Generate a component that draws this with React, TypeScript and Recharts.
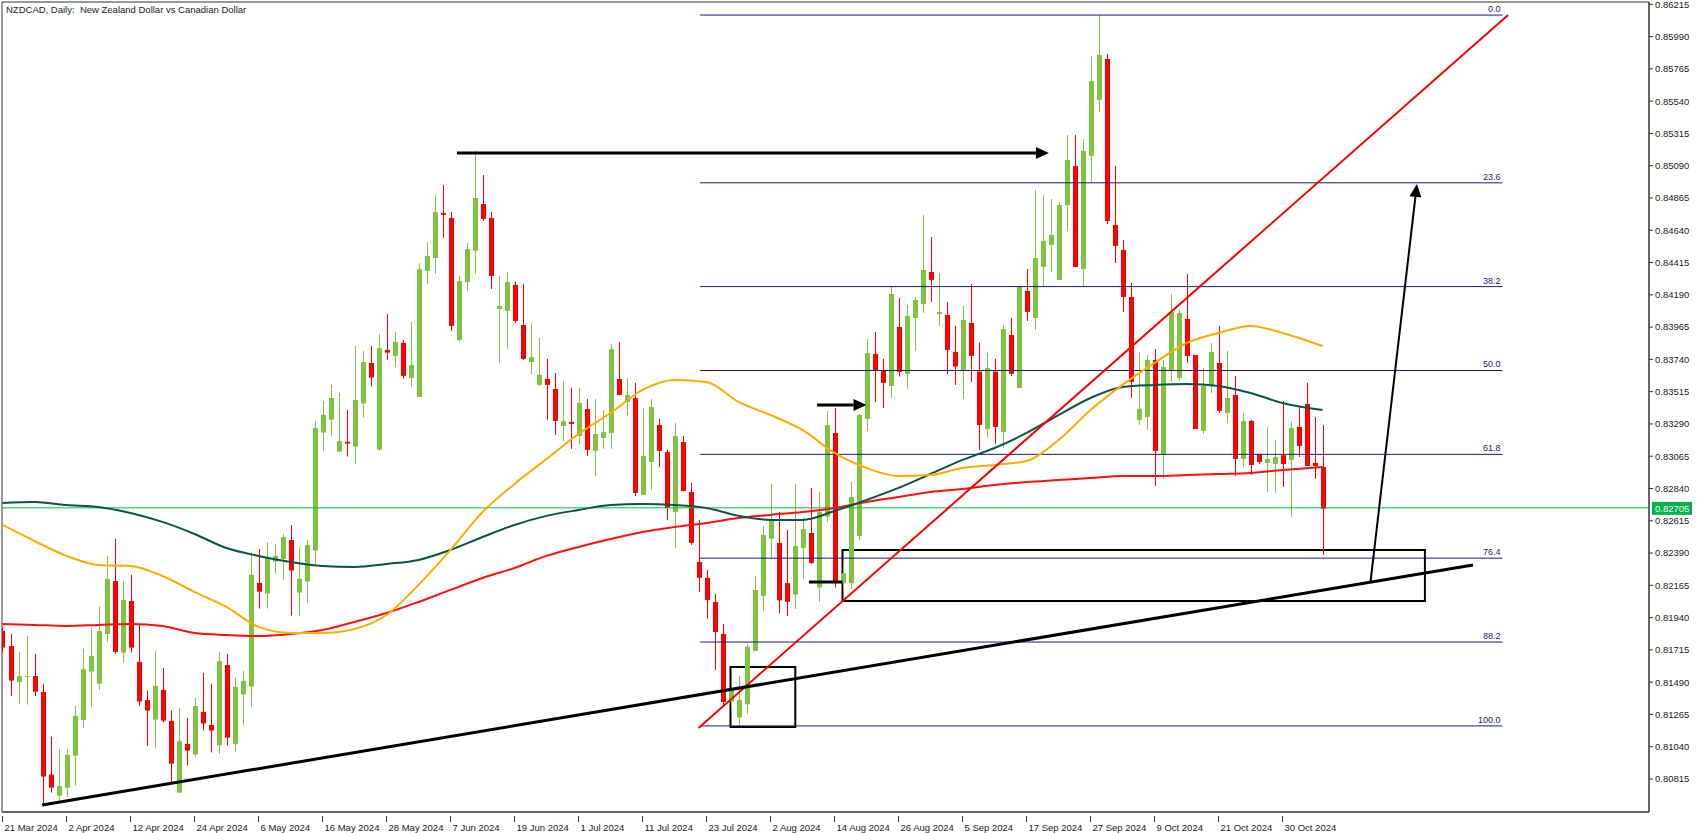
import {
  Bar,
  ComposedChart,
  Line,
  ReferenceArea,
  ReferenceLine,
  XAxis,
  YAxis,
} from "recharts";

// daily candles, index 0 = 21 Mar 2024
const opens = [
  0.81847, 0.81742, 0.81492, 0.81526, 0.81533, 0.81422, 0.80846, 0.80699, 0.80755, 0.80978,
  0.81227, 0.81564, 0.8148, 0.81826, 0.82195, 0.81696, 0.82056, 0.81631, 0.81366, 0.81229,
  0.81436, 0.8122, 0.8072, 0.8106, 0.80985, 0.81283, 0.81192, 0.8105, 0.8161, 0.8106,
  0.81404, 0.81459, 0.82182, 0.82108, 0.82331, 0.82349, 0.82481, 0.82115, 0.82191, 0.82407,
  0.8323, 0.8332, 0.83097, 0.83165, 0.83132, 0.83432, 0.83715, 0.83111, 0.83806, 0.83764,
  0.83855, 0.83611, 0.83478, 0.84356, 0.84447, 0.8476, 0.84726, 0.83875, 0.8428, 0.84496,
  0.84823, 0.84726, 0.84091, 0.84077, 0.84259, 0.8398, 0.83722, 0.83562, 0.83604, 0.83534,
  0.83276, 0.83304, 0.83206, 0.83394, 0.83102, 0.83192, 0.83227, 0.83603, 0.83443, 0.83471,
  0.82795, 0.83025, 0.83283, 0.83095, 0.82677, 0.83164, 0.82816, 0.82328, 0.82217, 0.82049,
  0.81826, 0.81355, 0.81243, 0.81336, 0.81708, 0.82091, 0.82489, 0.82461, 0.8218, 0.821,
  0.82426, 0.8253, 0.8215, 0.82644, 0.83227, 0.8218, 0.8218, 0.82509, 0.83325, 0.83778,
  0.83659, 0.83555, 0.83966, 0.83638, 0.84029, 0.84126, 0.84349, 0.84057, 0.8405, 0.83792,
  0.83667, 0.83994, 0.83655, 0.83255, 0.83655, 0.83234, 0.8391, 0.83541, 0.84217, 0.84029,
  0.84384, 0.84538, 0.84294, 0.84816, 0.85088, 0.8437, 0.85158, 0.85548, 0.85834, 0.84677,
  0.84503, 0.84175, 0.83318, 0.83339, 0.83736, 0.83074, 0.83659, 0.83611, 0.84022, 0.83771,
  0.83241, 0.83562, 0.83715, 0.83367, 0.83492, 0.83046, 0.83311, 0.83081, 0.83018, 0.83011,
  0.83072, 0.83039, 0.83269, 0.83429, 0.83018, 0.8299,
];
const highs = [
  0.8187, 0.81826, 0.81701, 0.81812, 0.81687, 0.81478, 0.81111, 0.81025, 0.81025, 0.81324,
  0.81722, 0.81868, 0.82017, 0.8237, 0.82488, 0.82195, 0.82237, 0.81896, 0.81431, 0.81708,
  0.81589, 0.81292, 0.8131, 0.81241, 0.8138, 0.81555, 0.81478, 0.81701, 0.81687, 0.8152,
  0.81569, 0.82396, 0.82419, 0.82465, 0.82454, 0.82523, 0.82586, 0.82433, 0.82481, 0.83311,
  0.8345, 0.83562, 0.83506, 0.83388, 0.83834, 0.83799, 0.83834, 0.83917, 0.84056, 0.83931,
  0.83875, 0.84001, 0.8441, 0.84558, 0.84886, 0.84956, 0.84767, 0.84321, 0.84551, 0.85193,
  0.85025, 0.84767, 0.84321, 0.84349, 0.8428, 0.84266, 0.83994, 0.83889, 0.83743, 0.83645,
  0.8359, 0.83541, 0.83541, 0.83464, 0.83464, 0.83387, 0.83847, 0.83861, 0.8361, 0.83576,
  0.83401, 0.83464, 0.83325, 0.83109, 0.83297, 0.83206, 0.82879, 0.82621, 0.82272, 0.82105,
  0.81896, 0.81448, 0.81534, 0.81757, 0.8223, 0.82579, 0.82872, 0.82677, 0.82551, 0.82872,
  0.82635, 0.82844, 0.82816, 0.8338, 0.83401, 0.8232, 0.82886, 0.8336, 0.83882, 0.83931,
  0.83743, 0.84252, 0.84168, 0.84119, 0.84175, 0.84747, 0.84593, 0.84342, 0.8414, 0.83973,
  0.84113, 0.84266, 0.83857, 0.83785, 0.83743, 0.8398, 0.84029, 0.84252, 0.8437, 0.84921,
  0.84886, 0.84858, 0.84837, 0.85304, 0.85304, 0.85276, 0.85855, 0.8614, 0.85869, 0.85088,
  0.84572, 0.84273, 0.83792, 0.83771, 0.83813, 0.83736, 0.84196, 0.84084, 0.84335, 0.83771,
  0.8368, 0.83854, 0.83973, 0.83799, 0.83624, 0.83367, 0.83318, 0.83081, 0.83269, 0.83178,
  0.8345, 0.83304, 0.83408, 0.83576, 0.83339, 0.83283,
];
const lows = [
  0.817, 0.81394, 0.81341, 0.81334, 0.81394, 0.80623, 0.8072, 0.80662, 0.80692, 0.80769,
  0.81169, 0.81317, 0.81436, 0.8177, 0.81689, 0.81626, 0.81696, 0.81324, 0.81046, 0.81027,
  0.81208, 0.80783, 0.8072, 0.80911, 0.8097, 0.81153, 0.81, 0.8099, 0.8105, 0.8101,
  0.81188, 0.8132, 0.82003, 0.82003, 0.82247, 0.82205, 0.81954, 0.81954, 0.82045, 0.82307,
  0.83104, 0.83202, 0.83095, 0.83062, 0.83013, 0.83334, 0.8355, 0.83104, 0.83738, 0.83687,
  0.83604, 0.83548, 0.83478, 0.84266, 0.84335, 0.84586, 0.83938, 0.83862, 0.84217, 0.84335,
  0.84705, 0.84231, 0.83715, 0.83813, 0.83994, 0.83736, 0.83638, 0.83555, 0.83318, 0.83213,
  0.83171, 0.83116, 0.8315, 0.83067, 0.82927, 0.83116, 0.83116, 0.83492, 0.83352, 0.82788,
  0.82795, 0.8283, 0.8299, 0.82621, 0.82426, 0.82823, 0.82447, 0.82119, 0.81931, 0.81575,
  0.81324, 0.81297, 0.81185, 0.81269, 0.81708, 0.81987, 0.82349, 0.8197, 0.8195, 0.82,
  0.8221, 0.82314, 0.8205, 0.82607, 0.8215, 0.8213, 0.8214, 0.8248, 0.83241, 0.83443,
  0.83401, 0.83471, 0.8362, 0.83534, 0.83799, 0.84064, 0.8414, 0.83973, 0.83638, 0.83562,
  0.83464, 0.83583, 0.83109, 0.83193, 0.83151, 0.83123, 0.83625, 0.83541, 0.84008, 0.83945,
  0.84245, 0.84349, 0.84294, 0.84635, 0.84384, 0.84245, 0.8497, 0.85464, 0.84684, 0.84412,
  0.84071, 0.83471, 0.83283, 0.83248, 0.82858, 0.82907, 0.83583, 0.8359, 0.83715, 0.83255,
  0.8322, 0.83506, 0.83367, 0.83297, 0.82928, 0.8299, 0.82935, 0.83011, 0.82816, 0.82809,
  0.82851, 0.82642, 0.8306, 0.82997, 0.82907, 0.82377,
];
const closes = [
  0.81731, 0.81501, 0.81533, 0.81533, 0.81424, 0.80832, 0.80755, 0.80767, 0.80983, 0.81255,
  0.81582, 0.81673, 0.81847, 0.82209, 0.81701, 0.82063, 0.81731, 0.81355, 0.81292, 0.81464,
  0.81222, 0.80922, 0.8108, 0.81013, 0.81324, 0.81202, 0.81153, 0.81638, 0.81104, 0.81457,
  0.81499, 0.82238, 0.82121, 0.82361, 0.8237, 0.82502, 0.82268, 0.8221, 0.82447, 0.83262,
  0.83353, 0.83471, 0.83171, 0.83153, 0.83457, 0.83722, 0.83613, 0.8382, 0.83787, 0.83862,
  0.83625, 0.83701, 0.8437, 0.84461, 0.84767, 0.84747, 0.83973, 0.84287, 0.8451, 0.84865,
  0.84719, 0.84321, 0.84112, 0.8428, 0.84008, 0.83743, 0.83757, 0.83632, 0.83562, 0.83311,
  0.83311, 0.8329, 0.83436, 0.83109, 0.8322, 0.83234, 0.83812, 0.83492, 0.83492, 0.82809,
  0.83067, 0.83408, 0.83102, 0.82704, 0.83206, 0.82823, 0.82461, 0.82217, 0.82063, 0.8184,
  0.81352, 0.81436, 0.81366, 0.81736, 0.82133, 0.82516, 0.82621, 0.8206, 0.8205, 0.8244,
  0.82558, 0.82321, 0.82677, 0.83283, 0.82182, 0.8225, 0.82781, 0.83353, 0.83785, 0.83666,
  0.83576, 0.84196, 0.83652, 0.84043, 0.84154, 0.84363, 0.84294, 0.84071, 0.83806, 0.8369,
  0.84015, 0.83764, 0.83283, 0.8368, 0.83269, 0.83952, 0.83639, 0.84245, 0.84071, 0.84447,
  0.84566, 0.84607, 0.84816, 0.8513, 0.84384, 0.85193, 0.85681, 0.85862, 0.84705, 0.84531,
  0.84175, 0.83583, 0.83395, 0.83736, 0.83102, 0.83687, 0.8407, 0.84064, 0.83764, 0.83255,
  0.83555, 0.83792, 0.83381, 0.83471, 0.83046, 0.83311, 0.83004, 0.83025, 0.83046, 0.8306,
  0.83011, 0.83262, 0.83137, 0.82997, 0.82997, 0.82698,
];

// moving averages read every 4 bars
const maIndex = [
  0, 4, 8, 12, 16, 20, 24, 28, 32, 36, 40, 44, 48, 52, 56, 60, 64, 68, 72, 76, 80,
  84, 88, 92, 96, 100, 104, 108, 112, 116, 120, 124, 128, 132, 136, 140, 144, 148,
  152, 156, 160, 165,
];
const maFast = [
  0.82586, 0.82474, 0.8237, 0.82307, 0.823, 0.8223, 0.82119, 0.82014, 0.81875, 0.81833,
  0.81833, 0.81861, 0.81958, 0.82168, 0.82412, 0.82676, 0.82872, 0.83046, 0.8322, 0.83366,
  0.83527, 0.83597, 0.83583, 0.83443, 0.83352, 0.83248, 0.83088, 0.82983, 0.82927, 0.82934,
  0.82983, 0.83004, 0.83032, 0.83178, 0.83387, 0.83562, 0.83715, 0.83854, 0.83924, 0.83973,
  0.83924, 0.83833,
];
const maMid = [
  0.82739, 0.82746, 0.82725, 0.82711, 0.82669, 0.82607, 0.82523, 0.82425, 0.8237, 0.82328,
  0.823, 0.82293, 0.82314, 0.82342, 0.82412, 0.82502, 0.82586, 0.82649, 0.8269, 0.82725,
  0.82732, 0.82725, 0.82704, 0.82649, 0.82621, 0.82621, 0.82683, 0.8276, 0.82844, 0.82941,
  0.83039, 0.83122, 0.83227, 0.83352, 0.83471, 0.83548, 0.83562, 0.83569, 0.83555, 0.83506,
  0.83436, 0.83387,
];
const maSlow = [
  0.81896, 0.81889, 0.81882, 0.81889, 0.81896, 0.81882, 0.81833, 0.81819, 0.81812, 0.81826,
  0.81854, 0.8191, 0.81972, 0.82049, 0.82133, 0.82216, 0.82286, 0.8237, 0.82432, 0.82488,
  0.82537, 0.82572, 0.826, 0.82635, 0.82656, 0.82676, 0.82704, 0.82746, 0.82781, 0.82816,
  0.82837, 0.82865, 0.82885, 0.82899, 0.82913, 0.82927, 0.82927, 0.82934, 0.82941, 0.82948,
  0.82969, 0.8299,
];

const tickIdx = [0, 8, 16, 24, 32, 40, 48, 56, 64, 72, 80, 88, 96, 104, 112, 120, 128, 136, 144, 152, 160];
const tickLabels = [
  "21 Mar 2024", "2 Apr 2024", "12 Apr 2024", "24 Apr 2024", "6 May 2024", "16 May 2024",
  "28 May 2024", "7 Jun 2024", "19 Jun 2024", "1 Jul 2024", "11 Jul 2024", "23 Jul 2024",
  "2 Aug 2024", "14 Aug 2024", "26 Aug 2024", "5 Sep 2024", "17 Sep 2024", "27 Sep 2024",
  "9 Oct 2024", "21 Oct 2024", "30 Oct 2024",
];
const priceTicks = [
  0.86215, 0.8599, 0.85765, 0.8554, 0.85315, 0.8509, 0.84865, 0.8464, 0.84415, 0.8419,
  0.83965, 0.8374, 0.83515, 0.8329, 0.83065, 0.8284, 0.82615, 0.8239, 0.82165, 0.8194,
  0.81715, 0.8149, 0.81265, 0.8104, 0.80815,
];

// fibonacci retracement drawn from the 26 Sep high to the 24 Jul low
const fibHigh = 0.8614;
const fibLow = 0.81185;
const fibLevels = [0, 23.6, 38.2, 50, 61.8, 76.4, 88.2, 100];
const fibFrom = 87.2;
const fibTo = 187.5;
const lastPrice = 0.82705;

const GREEN = "#80c342";
const RED = "#ff0000";
const NAVY = "#1b1b78";
const FONT = "Liberation Sans, Arial, sans-serif";

const rows = opens.map((o, i) => {
  const k = maIndex.indexOf(i);
  return {
    i,
    o,
    h: highs[i],
    l: lows[i],
    c: closes[i],
    range: [lows[i], highs[i]],
    fast: k >= 0 ? maFast[k] : null,
    mid: k >= 0 ? maMid[k] : null,
    slow: k >= 0 ? maSlow[k] : null,
  };
});

function Candle(props: any) {
  const { x, y, width, height, payload } = props;
  if (!payload) return null;
  const { o, h, l, c } = payload;
  const top = Math.min(y, y + height);
  const full = Math.abs(height);
  const k = h > l ? full / (h - l) : 0;
  const yo = top + (h - o) * k;
  const yc = top + (h - c) * k;
  const cx = Math.floor(x + width / 2) + 0.5;
  const col = c >= o ? GREEN : RED;
  const bt = Math.min(yo, yc);
  const bh = Math.max(1, Math.abs(yc - yo));
  return (
    <g>
      <line x1={cx} x2={cx} y1={top} y2={top + full} stroke={col} strokeWidth={1} />
      <rect x={cx - 2.5} y={bt} width={5} height={bh} fill={col} />
    </g>
  );
}

function arrowLine(width: number) {
  return (p: any) => {
    const { x1, y1, x2, y2 } = p;
    const a = Math.atan2(y2 - y1, x2 - x1);
    const len = 13;
    const half = 6;
    const bx = x2 - len * Math.cos(a);
    const by = y2 - len * Math.sin(a);
    const px = -Math.sin(a) * half;
    const py = Math.cos(a) * half;
    return (
      <g>
        <line x1={x1} y1={y1} x2={bx} y2={by} stroke="#000" strokeWidth={width} />
        <polygon points={`${x2},${y2} ${bx + px},${by + py} ${bx - px},${by - py}`} fill="#000" />
      </g>
    );
  };
}

const fibLabel = (text: string) => (p: any) => {
  const vb = p.viewBox || {};
  return (
    <text x={vb.x + vb.width - 2} y={vb.y - 3} textAnchor="end" fontSize={9} fontFamily={FONT} fill={NAVY}>
      {text}
    </text>
  );
};

const priceLabel = (p: any) => {
  const vb = p.viewBox || {};
  const x = vb.x + vb.width + 3;
  return (
    <g>
      <rect x={x} y={vb.y - 6} width={40} height={13} fill="#00b44b" />
      <text x={x + 3} y={vb.y + 4} fontSize={9.5} fontFamily={FONT} fill="#fff">
        {lastPrice.toFixed(5)}
      </text>
    </g>
  );
};

const XTick = (p: any) => {
  const { x, y, payload } = p;
  const k = tickIdx.indexOf(payload.value);
  return (
    <g>
      <line x1={x} x2={x} y1={y - 4} y2={y + 2} stroke="#333" />
      <text x={x + 2} y={y + 11} fontSize={9.5} fontFamily={FONT} fill="#222">
        {k >= 0 ? tickLabels[k] : ""}
      </text>
    </g>
  );
};

export default function App() {
  const xMin = -0.0625;
  const xMax = 205.81;
  const yMin = 0.80585;
  const yMax = 0.86231;
  return (
    <div style={{ position: "absolute", left: 0, top: 0, width: 1702, height: 833, background: "#fff" }}>
      <ComposedChart
        width={1702}
        height={833}
        data={rows}
        margin={{ top: 2, right: 0, bottom: 0, left: 2 }}
      >
        <XAxis
          dataKey="i"
          type="number"
          domain={[xMin, xMax]}
          allowDataOverflow
          ticks={tickIdx}
          tick={<XTick />}
          tickLine={false}
          axisLine={{ stroke: "#333" }}
          height={21}
          interval={0}
        />
        <YAxis
          orientation="right"
          type="number"
          domain={[yMin, yMax]}
          allowDataOverflow
          ticks={priceTicks}
          interval={0}
          width={53}
          tickSize={4}
          tickMargin={2}
          tickFormatter={(v: number) => v.toFixed(5)}
          tick={{ fontSize: 9.5, fontFamily: FONT, fill: "#222" }}
          tickLine={{ stroke: "#333" }}
          axisLine={{ stroke: "#333" }}
        />
        <ReferenceArea
          x1={xMin}
          x2={xMax}
          y1={yMin}
          y2={yMax}
          fill="none"
          stroke="#333"
          ifOverflow="visible"
        />
        {fibLevels.map((lv) => {
          const p = fibHigh - ((fibHigh - fibLow) * lv) / 100;
          return (
            <ReferenceLine
              key={lv}
              segment={[
                { x: fibFrom, y: p },
                { x: fibTo, y: p },
              ]}
              stroke={NAVY}
              strokeWidth={1}
              label={fibLabel(lv.toFixed(1))}
            />
          );
        })}
        <ReferenceLine y={lastPrice} stroke="#00c040" strokeWidth={1} label={priceLabel} />
        <Line dataKey="slow" type="monotone" stroke="#ff1010" strokeWidth={2} dot={false} connectNulls isAnimationActive={false} />
        <Line dataKey="mid" type="monotone" stroke="#0b5447" strokeWidth={2} dot={false} connectNulls isAnimationActive={false} />
        <Line dataKey="fast" type="monotone" stroke="#ffad00" strokeWidth={2} dot={false} connectNulls isAnimationActive={false} />
        <Bar dataKey="range" barSize={5} shape={<Candle />} isAnimationActive={false} />
        <ReferenceArea x1={105} x2={177.8} y1={0.82056} y2={0.82412} fill="none" stroke="#000" strokeWidth={2} />
        <ReferenceArea x1={91} x2={99.1} y1={0.81178} y2={0.81596} fill="none" stroke="#000" strokeWidth={2} />
        <ReferenceLine segment={[{ x: 87, y: 0.81171 }, { x: 188.2, y: 0.8614 }]} stroke="#ff0000" strokeWidth={2} />
        <ReferenceLine segment={[{ x: 4.96, y: 0.80634 }, { x: 183.8, y: 0.82307 }]} stroke="#000" strokeWidth={3} />
        <ReferenceLine segment={[{ x: 56.8, y: 0.85179 }, { x: 130.8, y: 0.85179 }]} shape={arrowLine(3)} />
        <ReferenceLine segment={[{ x: 101.8, y: 0.83422 }, { x: 108, y: 0.83422 }]} shape={arrowLine(3)} />
        <ReferenceLine segment={[{ x: 100.8, y: 0.82189 }, { x: 105, y: 0.82189 }]} stroke="#000" strokeWidth={3} />
        <ReferenceLine segment={[{ x: 171, y: 0.82189 }, { x: 176.8, y: 0.84963 }]} shape={arrowLine(2)} />
      </ComposedChart>
      <div
        style={{
          position: "absolute",
          left: 6,
          top: 4,
          fontFamily: FONT,
          fontSize: 9.5,
          color: "#222",
        }}
      >
        NZDCAD, Daily:&nbsp; New Zealand Dollar vs Canadian Dollar
      </div>
    </div>
  );
}
